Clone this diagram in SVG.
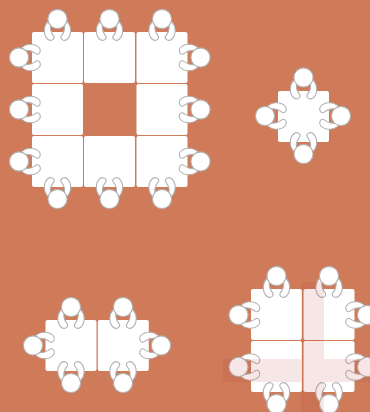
<svg xmlns="http://www.w3.org/2000/svg" width="370" height="412" viewBox="0 0 370 412">
<style>
.t{fill:#fff;rx:2px;ry:2px}
.h{fill:#fff;stroke:#b2b2b2;stroke-width:1.1}
.a{fill:#fff;stroke:#b2b2b2;stroke-width:1.1}
.ov{fill:#b83a3a;fill-opacity:.13}
</style>
<defs>
<g id="p">
<path class="a" d="M-9,2C-14.500,7-14.500,16-9.500,20.500C-6.500,22.500-2.500,20.500-3.500,17.500C-4.500,15.500-8,13-7,6Z"/>
<path class="a" d="M9,2C14.500,7 14.500,16 9.500,20.500C6.500,22.500 2.500,20.500 3.500,17.500C4.500,15.500 8,13 7,6Z"/>
<circle class="h" r="9.600"/>
</g>
</defs>
<rect width="370" height="412" fill="#cf7a58"/>
<g id="nodes">
<g id="group-a">
<rect class="t" x="32" y="32" width="51" height="51"/><rect class="t" x="84" y="32" width="51" height="51"/><rect class="t" x="136.500" y="32" width="51" height="51"/>
<rect class="t" x="32" y="84" width="51" height="51"/><rect class="t" x="136.500" y="84" width="51" height="51"/>
<rect class="t" x="32" y="136" width="51" height="51"/><rect class="t" x="84" y="136" width="51" height="51"/><rect class="t" x="136.500" y="136" width="51" height="51"/>
<use href="#p" transform="translate(57.500 19)"/><use href="#p" transform="translate(109.500 19)"/><use href="#p" transform="translate(162 19)"/>
<use href="#p" transform="translate(57.500 199) rotate(180)"/><use href="#p" transform="translate(109.500 199) rotate(180)"/><use href="#p" transform="translate(162 199) rotate(180)"/>
<use href="#p" transform="translate(19 57.500) rotate(-90)"/><use href="#p" transform="translate(19 109.500) rotate(-90)"/><use href="#p" transform="translate(19 161.500) rotate(-90)"/>
<use href="#p" transform="translate(200.500 57.500) rotate(90)"/><use href="#p" transform="translate(200.500 109.500) rotate(90)"/><use href="#p" transform="translate(200.500 161.500) rotate(90)"/>
</g>
<g id="group-b">
<rect class="t" x="278" y="91" width="51" height="51"/>
<use href="#p" transform="translate(303.500 77.500)"/>
<use href="#p" transform="translate(303.500 154) rotate(180)"/>
<use href="#p" transform="translate(265 116) rotate(-90)"/>
<use href="#p" transform="translate(341 116) rotate(90)"/>
</g>
<g id="group-c">
<rect class="t" x="45.500" y="320" width="51" height="51"/><rect class="t" x="97.800" y="320" width="51" height="51"/>
<use href="#p" transform="translate(71 307)"/><use href="#p" transform="translate(123 307)"/>
<use href="#p" transform="translate(71 383) rotate(180)"/><use href="#p" transform="translate(123 383) rotate(180)"/>
<use href="#p" transform="translate(33 345.500) rotate(-90)"/><use href="#p" transform="translate(161 345.500) rotate(90)"/>
</g>
<g id="group-d">
<rect class="t" x="251" y="289" width="51" height="51"/><rect class="t" x="303.500" y="289" width="51" height="51"/>
<rect class="t" x="251" y="341" width="51" height="51"/><rect class="t" x="303.500" y="341" width="51" height="51"/>
<use href="#p" transform="translate(276.500 276)"/><use href="#p" transform="translate(329 276)"/>
<use href="#p" transform="translate(276.500 404) rotate(180)"/><use href="#p" transform="translate(329 404) rotate(180)"/>
<use href="#p" transform="translate(238.500 315) rotate(-90)"/><use href="#p" transform="translate(238.500 367) rotate(-90)"/>
<use href="#p" transform="translate(367 315) rotate(90)"/><use href="#p" transform="translate(367 367) rotate(90)"/>
<path id="highlight" class="ov" d="M301,282H324V359H370V382H324V412H301V382H223V359H301Z"/>
</g>
</g>
<g id="connectors"/>
</svg>
